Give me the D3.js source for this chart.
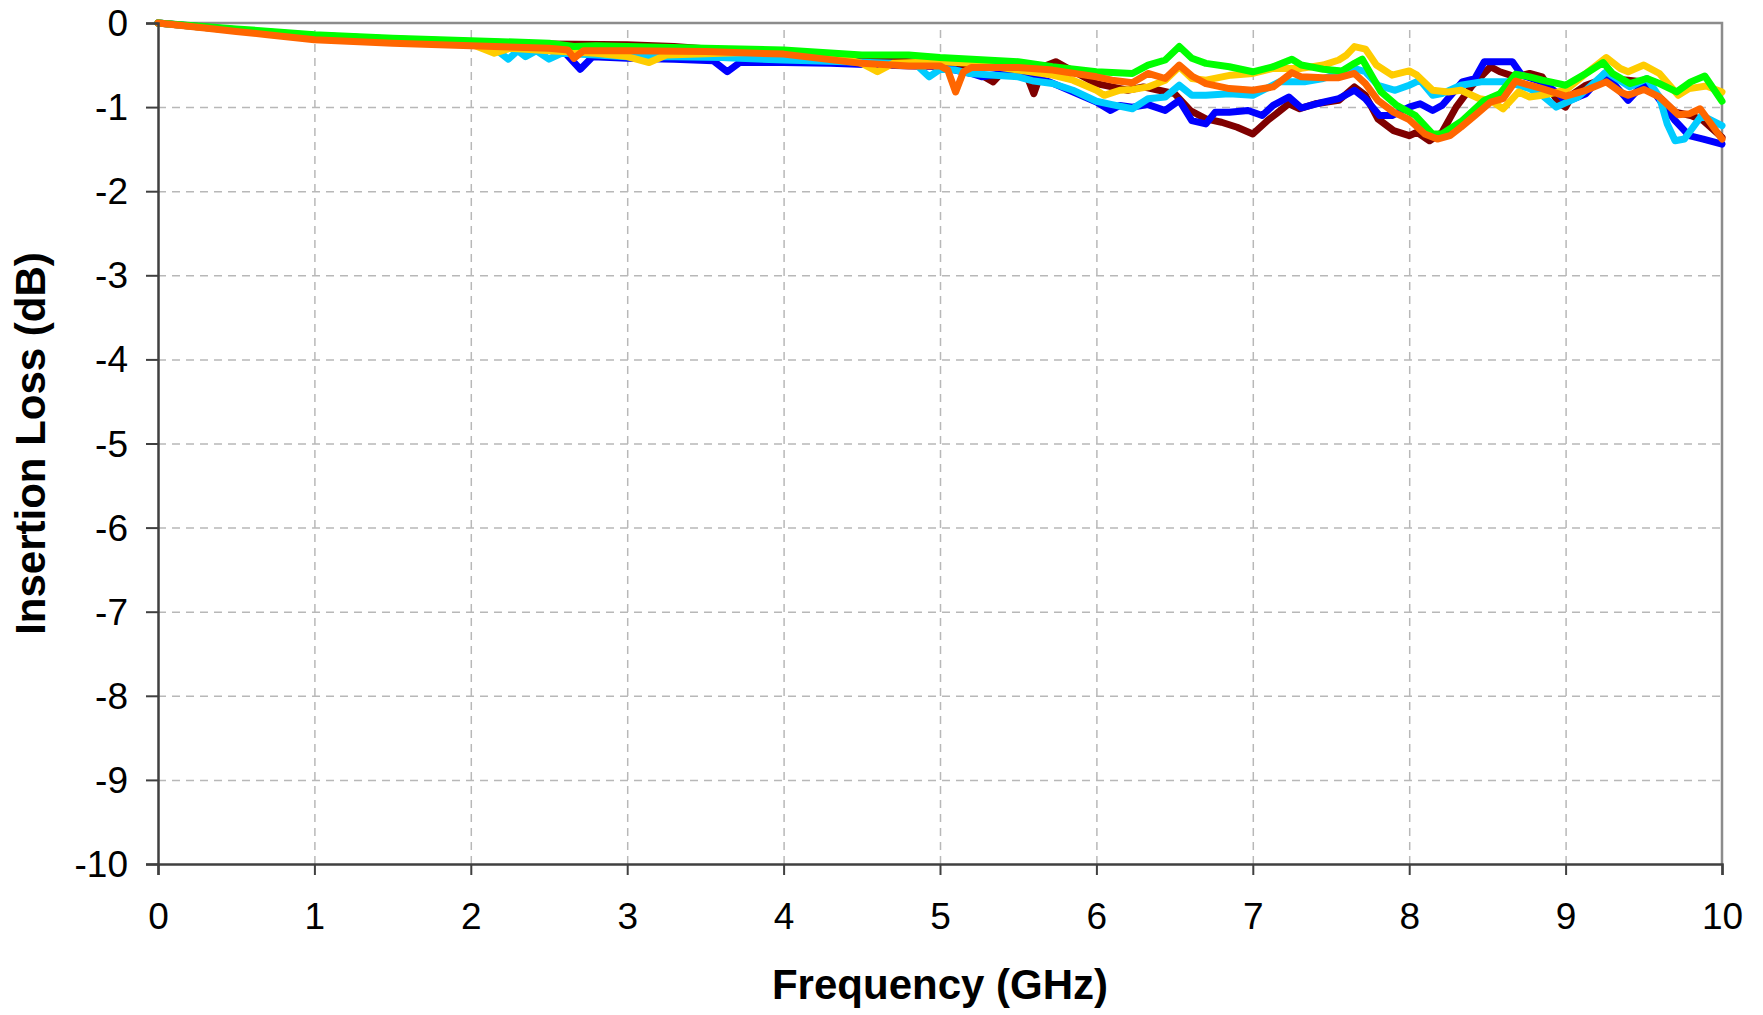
<!DOCTYPE html>
<html>
<head>
<meta charset="utf-8">
<script src="https://cdn.jsdelivr.net/npm/d3@7"></script>
<style>
  html, body { margin: 0; padding: 0; background: #fff; }
  svg { display: block; font-family: "Liberation Sans", Arial, sans-serif; }
</style>
</head>
<body>
<div id="chart"></div>
<script>
// [GHz, dB] pairs
const seriesDarkRed = [[0,0],[0.5,-0.09],[1,-0.15],[1.5,-0.19],[2,-0.22],[2.5,-0.25],[3,-0.26],[3.3,-0.28],[3.6,-0.32],[4,-0.36],[4.5,-0.43],[5,-0.48],[5.2,-0.55],[5.34,-0.70],[5.4,-0.58],[5.5,-0.58],[5.55,-0.6],[5.6,-0.84],[5.66,-0.52],[5.74,-0.46],[5.8,-0.52],[5.9,-0.62],[6,-0.72],[6.1,-0.76],[6.2,-0.80],[6.3,-0.76],[6.4,-0.80],[6.5,-0.84],[6.6,-1.04],[6.7,-1.14],[6.8,-1.18],[6.9,-1.24],[7,-1.32],[7.1,-1.15],[7.15,-1.08],[7.23,-0.96],[7.3,-1.02],[7.4,-0.96],[7.55,-0.92],[7.65,-0.76],[7.72,-0.86],[7.8,-1.14],[7.9,-1.28],[8,-1.34],[8.05,-1.30],[8.13,-1.40],[8.21,-1.30],[8.3,-1.0],[8.4,-0.75],[8.52,-0.52],[8.58,-0.58],[8.68,-0.64],[8.77,-0.60],[8.85,-0.64],[8.96,-0.96],[9.0,-1.0],[9.05,-0.84],[9.13,-0.74],[9.25,-0.66],[9.4,-0.68],[9.5,-0.70],[9.6,-0.88],[9.7,-1.06],[9.8,-1.10],[9.88,-1.16],[10,-1.36]];
const seriesBlue = [[0,0],[0.5,-0.08],[1,-0.15],[1.5,-0.19],[2,-0.24],[2.3,-0.28],[2.6,-0.35],[2.7,-0.55],[2.78,-0.40],[3,-0.42],[3.3,-0.43],[3.55,-0.45],[3.64,-0.58],[3.72,-0.47],[4,-0.47],[4.3,-0.48],[4.6,-0.50],[5,-0.52],[5.2,-0.60],[5.27,-0.64],[5.4,-0.60],[5.5,-0.60],[5.7,-0.70],[5.9,-0.86],[6,-0.94],[6.09,-1.04],[6.15,-0.98],[6.23,-1.0],[6.33,-0.97],[6.44,-1.04],[6.53,-0.92],[6.61,-1.16],[6.70,-1.2],[6.76,-1.06],[6.85,-1.06],[6.97,-1.04],[7.06,-1.10],[7.13,-0.98],[7.23,-0.88],[7.31,-1.01],[7.45,-0.94],[7.55,-0.90],[7.65,-0.80],[7.72,-0.90],[7.81,-1.10],[7.89,-1.10],[8,-1.0],[8.07,-0.96],[8.15,-1.04],[8.21,-0.98],[8.34,-0.70],[8.42,-0.66],[8.48,-0.46],[8.57,-0.46],[8.66,-0.46],[8.72,-0.62],[8.85,-0.70],[8.96,-0.85],[9,-0.94],[9.13,-0.84],[9.25,-0.60],[9.4,-0.92],[9.5,-0.72],[9.58,-0.86],[9.7,-1.16],[9.79,-1.34],[9.88,-1.38],[10,-1.44]];
const seriesCyan = [[0,0],[0.5,-0.09],[1,-0.16],[1.5,-0.21],[2,-0.26],[2.15,-0.30],[2.24,-0.43],[2.3,-0.33],[2.35,-0.40],[2.42,-0.33],[2.5,-0.43],[2.58,-0.36],[2.8,-0.38],[3,-0.40],[3.3,-0.40],[3.6,-0.41],[4,-0.44],[4.4,-0.46],[4.7,-0.48],[4.85,-0.50],[4.93,-0.64],[5.0,-0.55],[5.1,-0.56],[5.19,-0.60],[5.35,-0.62],[5.5,-0.64],[5.6,-0.69],[5.72,-0.72],[5.85,-0.80],[6,-0.93],[6.1,-0.97],[6.23,-1.02],[6.33,-0.90],[6.44,-0.88],[6.53,-0.74],[6.61,-0.86],[6.70,-0.86],[6.85,-0.84],[7,-0.86],[7.17,-0.70],[7.33,-0.70],[7.45,-0.66],[7.55,-0.60],[7.65,-0.54],[7.72,-0.58],[7.8,-0.74],[7.91,-0.80],[8,-0.74],[8.07,-0.68],[8.15,-0.86],[8.21,-0.84],[8.33,-0.74],[8.46,-0.70],[8.63,-0.70],[8.77,-0.78],[8.85,-0.86],[8.94,-1.0],[9.08,-0.88],[9.26,-0.58],[9.41,-0.76],[9.52,-0.66],[9.6,-0.88],[9.65,-1.2],[9.70,-1.40],[9.76,-1.38],[9.87,-1.10],[10,-1.22]];
const seriesYellow = [[0,0],[0.5,-0.09],[1,-0.16],[1.5,-0.21],[2,-0.25],[2.15,-0.36],[2.25,-0.30],[2.5,-0.33],[2.8,-0.36],[3.0,-0.40],[3.14,-0.47],[3.25,-0.38],[3.6,-0.36],[4,-0.34],[4.3,-0.38],[4.5,-0.48],[4.6,-0.58],[4.7,-0.48],[5,-0.46],[5.2,-0.48],[5.5,-0.56],[5.72,-0.62],[5.85,-0.68],[6,-0.80],[6.05,-0.86],[6.15,-0.80],[6.23,-0.79],[6.33,-0.76],[6.44,-0.68],[6.53,-0.52],[6.61,-0.66],[6.70,-0.68],[6.86,-0.62],[7,-0.60],[7.13,-0.54],[7.23,-0.54],[7.31,-0.54],[7.45,-0.50],[7.55,-0.44],[7.60,-0.38],[7.65,-0.28],[7.72,-0.31],[7.79,-0.50],[7.89,-0.62],[8,-0.57],[8.05,-0.62],[8.15,-0.80],[8.25,-0.82],[8.33,-0.80],[8.45,-0.90],[8.52,-0.92],[8.6,-1.02],[8.7,-0.82],[8.77,-0.88],[8.85,-0.86],[9,-0.80],[9.13,-0.60],[9.26,-0.41],[9.35,-0.54],[9.4,-0.58],[9.5,-0.50],[9.6,-0.60],[9.72,-0.86],[9.79,-0.78],[9.9,-0.75],[10,-0.82]];
const seriesGreen = [[0,0],[0.5,-0.07],[1,-0.14],[1.5,-0.18],[2,-0.21],[2.5,-0.24],[2.66,-0.28],[2.8,-0.27],[3,-0.28],[3.5,-0.30],[4,-0.32],[4.5,-0.38],[4.8,-0.38],[5,-0.41],[5.5,-0.46],[5.72,-0.52],[6,-0.58],[6.1,-0.59],[6.23,-0.60],[6.33,-0.50],[6.44,-0.44],[6.53,-0.28],[6.61,-0.42],[6.70,-0.48],[6.85,-0.52],[7,-0.58],[7.13,-0.52],[7.25,-0.43],[7.31,-0.50],[7.45,-0.55],[7.57,-0.57],[7.65,-0.48],[7.70,-0.43],[7.82,-0.82],[7.92,-0.98],[8.04,-1.10],[8.15,-1.32],[8.21,-1.32],[8.34,-1.16],[8.48,-0.92],[8.58,-0.84],[8.68,-0.61],[8.77,-0.64],[8.85,-0.68],[9,-0.74],[9.13,-0.60],[9.24,-0.47],[9.3,-0.60],[9.41,-0.72],[9.52,-0.66],[9.6,-0.72],[9.71,-0.82],[9.8,-0.70],[9.89,-0.63],[10,-0.93]];
const seriesOrange = [[0,0],[0.3,-0.06],[0.5,-0.10],[0.7,-0.14],[1,-0.20],[1.5,-0.24],[2,-0.27],[2.5,-0.30],[2.62,-0.32],[2.66,-0.42],[2.72,-0.33],[3,-0.33],[3.5,-0.34],[4,-0.37],[4.5,-0.48],[4.8,-0.51],[5,-0.51],[5.05,-0.56],[5.1,-0.82],[5.15,-0.58],[5.2,-0.53],[5.5,-0.53],[5.72,-0.56],[6,-0.64],[6.1,-0.68],[6.23,-0.71],[6.33,-0.60],[6.44,-0.66],[6.53,-0.50],[6.61,-0.63],[6.70,-0.72],[6.85,-0.78],[7,-0.80],[7.13,-0.76],[7.25,-0.59],[7.31,-0.64],[7.45,-0.65],[7.55,-0.65],[7.65,-0.60],[7.72,-0.72],[7.8,-0.92],[7.9,-1.06],[8,-1.15],[8.1,-1.32],[8.18,-1.38],[8.26,-1.34],[8.33,-1.24],[8.42,-1.10],[8.52,-0.94],[8.60,-0.90],[8.68,-0.69],[8.77,-0.74],[8.85,-0.78],[9,-0.87],[9.13,-0.80],[9.26,-0.70],[9.35,-0.82],[9.4,-0.86],[9.5,-0.79],[9.6,-0.88],[9.72,-1.09],[9.79,-1.08],[9.86,-1.02],[10,-1.38]];

const seriesList = [seriesDarkRed, seriesBlue, seriesCyan, seriesYellow, seriesGreen, seriesOrange];
const seriesColors = ['#7f0000', '#0000ff', '#00ccff', '#ffcc00', '#00ff00', '#ff6600'];

const xTicks = [0, 1, 2, 3, 4, 5, 6, 7, 8, 9, 10];
const yTicks = [0, -1, -2, -3, -4, -5, -6, -7, -8, -9, -10];
const xTitle = 'Frequency (GHz)';
const yTitle = 'Insertion Loss (dB)';

const W = 1763, H = 1015;
const margin = { top: 23, right: 41, bottom: 151, left: 158 };
const width = W - margin.left - margin.right;
const height = H - margin.top - margin.bottom;

const svg = d3.select('#chart').append('svg')
    .attr('width', W)
    .attr('height', H);

const g = svg.append('g')
    .attr('transform', `translate(${margin.left},${margin.top})`);

const x = d3.scaleLinear().domain([0, 10]).range([0, width]);
const y = d3.scaleLinear().domain([-10, 0]).range([height, 0]);

// grid
g.append('g')
    .attr('transform', `translate(0,${height})`)
    .call(d3.axisBottom(x).tickValues(xTicks.slice(1, -1)).tickSize(-height).tickFormat(''))
    .call(s => s.select('.domain').remove())
    .selectAll('line')
    .attr('stroke', '#b8b8b8')
    .attr('stroke-width', 1.5)
    .attr('stroke-dasharray', '8,6');

g.append('g')
    .call(d3.axisLeft(y).tickValues(yTicks.slice(1, -1)).tickSize(-width).tickFormat(''))
    .call(s => s.select('.domain').remove())
    .selectAll('line')
    .attr('stroke', '#b8b8b8')
    .attr('stroke-width', 1.5)
    .attr('stroke-dasharray', '8,6');

// top / right frame
g.append('path')
    .attr('d', `M0,0H${width}V${height}`)
    .attr('fill', 'none')
    .attr('stroke', '#8c8c8c')
    .attr('stroke-width', 2.5);

// series
const line = d3.line()
    .x(d => x(d[0]))
    .y(d => y(d[1]));

seriesList.forEach((s, i) => {
    g.append('path')
        .datum(s)
        .attr('d', line)
        .attr('fill', 'none')
        .attr('stroke', seriesColors[i])
        .attr('stroke-width', 7)
        .attr('stroke-linejoin', 'round')
        .attr('stroke-linecap', 'round');
});

// axes (plain hyphen minus, like the reference)
const fmt = d => String(d);

const xAxis = g.append('g')
    .attr('transform', `translate(0,${height})`)
    .call(d3.axisBottom(x).tickValues(xTicks).tickSize(11).tickPadding(28).tickFormat(fmt));

const yAxis = g.append('g')
    .call(d3.axisLeft(y).tickValues(yTicks).tickSize(12).tickPadding(18).tickFormat(fmt));

[xAxis, yAxis].forEach(a => {
    a.select('.domain').attr('stroke', '#404040').attr('stroke-width', 2.5);
    a.selectAll('.tick line').attr('stroke', '#404040').attr('stroke-width', 2);
    a.selectAll('.tick text')
        .attr('fill', '#000')
        .style('font-size', '37px')
        .style('font-family', '"Liberation Sans", Arial, sans-serif');
});
yAxis.selectAll('.tick text').attr('dy', '0.34em');

// titles
svg.append('text')
    .attr('x', margin.left + width / 2)
    .attr('y', 999)
    .attr('text-anchor', 'middle')
    .style('font-size', '42px')
    .style('font-weight', 'bold')
    .text(xTitle);

svg.append('text')
    .attr('transform', `translate(45,${margin.top + height / 2}) rotate(-90)`)
    .attr('text-anchor', 'middle')
    .style('font-size', '42px')
    .style('font-weight', 'bold')
    .text(yTitle);
</script>
</body>
</html>
